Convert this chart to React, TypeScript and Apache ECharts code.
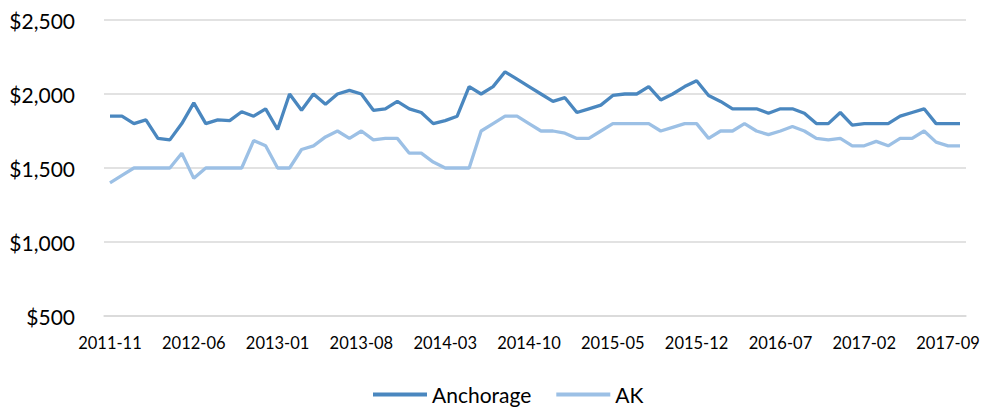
import React, { useEffect, useRef } from "react";
import * as echarts from "echarts";

const categories: string[] = [
  "2011-11", "2011-12",
  "2012-01", "2012-02", "2012-03", "2012-04", "2012-05", "2012-06", "2012-07", "2012-08", "2012-09", "2012-10", "2012-11", "2012-12",
  "2013-01", "2013-02", "2013-03", "2013-04", "2013-05", "2013-06", "2013-07", "2013-08", "2013-09", "2013-10", "2013-11", "2013-12",
  "2014-01", "2014-02", "2014-03", "2014-04", "2014-05", "2014-06", "2014-07", "2014-08", "2014-09", "2014-10", "2014-11", "2014-12",
  "2015-01", "2015-02", "2015-03", "2015-04", "2015-05", "2015-06", "2015-07", "2015-08", "2015-09", "2015-10", "2015-11", "2015-12",
  "2016-01", "2016-02", "2016-03", "2016-04", "2016-05", "2016-06", "2016-07", "2016-08", "2016-09", "2016-10", "2016-11", "2016-12",
  "2017-01", "2017-02", "2017-03", "2017-04", "2017-05", "2017-06", "2017-07", "2017-08", "2017-09", "2017-10",
];

const anchorage: number[] = [
  1850, 1850, 1800, 1825, 1700, 1690, 1800, 1940, 1800, 1825,
  1820, 1880, 1850, 1900, 1760, 2000, 1890, 2000, 1930, 2000,
  2025, 2000, 1890, 1900, 1950, 1900, 1875, 1800, 1820, 1850,
  2050, 2000, 2050, 2150, 2100, 2050, 2000, 1950, 1975, 1875,
  1900, 1925, 1990, 2000, 2000, 2050, 1960, 2000, 2050, 2090,
  1990, 1950, 1900, 1900, 1900, 1870, 1900, 1900, 1870, 1800,
  1800, 1875, 1790, 1800, 1800, 1800, 1850, 1875, 1900, 1800,
  1800, 1800,
];

const ak: number[] = [
  1400, 1450, 1500, 1500, 1500, 1500, 1600, 1430, 1500, 1500,
  1500, 1500, 1685, 1650, 1500, 1500, 1625, 1650, 1710, 1750,
  1700, 1750, 1690, 1700, 1700, 1600, 1600, 1540, 1500, 1500,
  1500, 1750, 1800, 1850, 1850, 1800, 1750, 1750, 1735, 1700,
  1700, 1750, 1800, 1800, 1800, 1800, 1750, 1775, 1800, 1800,
  1700, 1750, 1750, 1800, 1750, 1725, 1750, 1780, 1750, 1700,
  1690, 1700, 1650, 1650, 1680, 1650, 1700, 1700, 1750, 1675,
  1650, 1650,
];

const yTicks = { min: 500, max: 2500, interval: 500 };

const FONT = "Lato";
const DARK = "#4a87bf";
const LIGHT = "#9cc0e5";

export default function App() {
  const ref = useRef<HTMLDivElement>(null);

  useEffect(() => {
    if (!ref.current) return;
    const chart = echarts.init(ref.current, undefined, { renderer: "svg" });
    chart.setOption({
      animation: false,
      textStyle: { fontFamily: FONT },
      grid: { left: 104, right: 19, top: 20, bottom: 92, containLabel: false },
      legend: {
        left: 368,
        top: 379,
        itemWidth: 54,
        itemHeight: 4,
        itemGap: 25,
        icon: "rect",
        textStyle: { fontFamily: FONT, fontSize: 21, color: "#000" },
        data: ["Anchorage", "AK"],
      },
      xAxis: {
        type: "category",
        data: categories,
        boundaryGap: true,
        axisLine: { show: true, lineStyle: { color: "#d9d9d9", width: 1.5 } },
        axisTick: { show: false },
        axisLabel: {
          interval: 6,
          margin: 18,
          fontFamily: FONT,
          fontSize: 16.5,
          color: "#000",
        },
        splitLine: { show: false },
      },
      yAxis: {
        type: "value",
        min: yTicks.min,
        max: yTicks.max,
        interval: yTicks.interval,
        axisLine: { show: false },
        axisTick: { show: false },
        axisLabel: {
          margin: 29,
          fontFamily: FONT,
          fontSize: 21,
          color: "#000",
          formatter: (v: number) => "$" + v.toLocaleString("en-US"),
        },
        splitLine: { show: true, lineStyle: { color: "#d9d9d9", width: 1.5 } },
      },
      series: [
        {
          name: "Anchorage",
          type: "line",
          data: anchorage,
          symbol: "none",
          lineStyle: { color: DARK, width: 3.3 },
          itemStyle: { color: DARK },
        },
        {
          name: "AK",
          type: "line",
          data: ak,
          symbol: "none",
          lineStyle: { color: LIGHT, width: 3.3 },
          itemStyle: { color: LIGHT },
        },
      ],
    });
    return () => chart.dispose();
  }, []);

  return (
    <div
      ref={ref}
      style={{ position: "fixed", left: 0, top: 0, width: 985, height: 408, background: "#fff" }}
    />
  );
}
